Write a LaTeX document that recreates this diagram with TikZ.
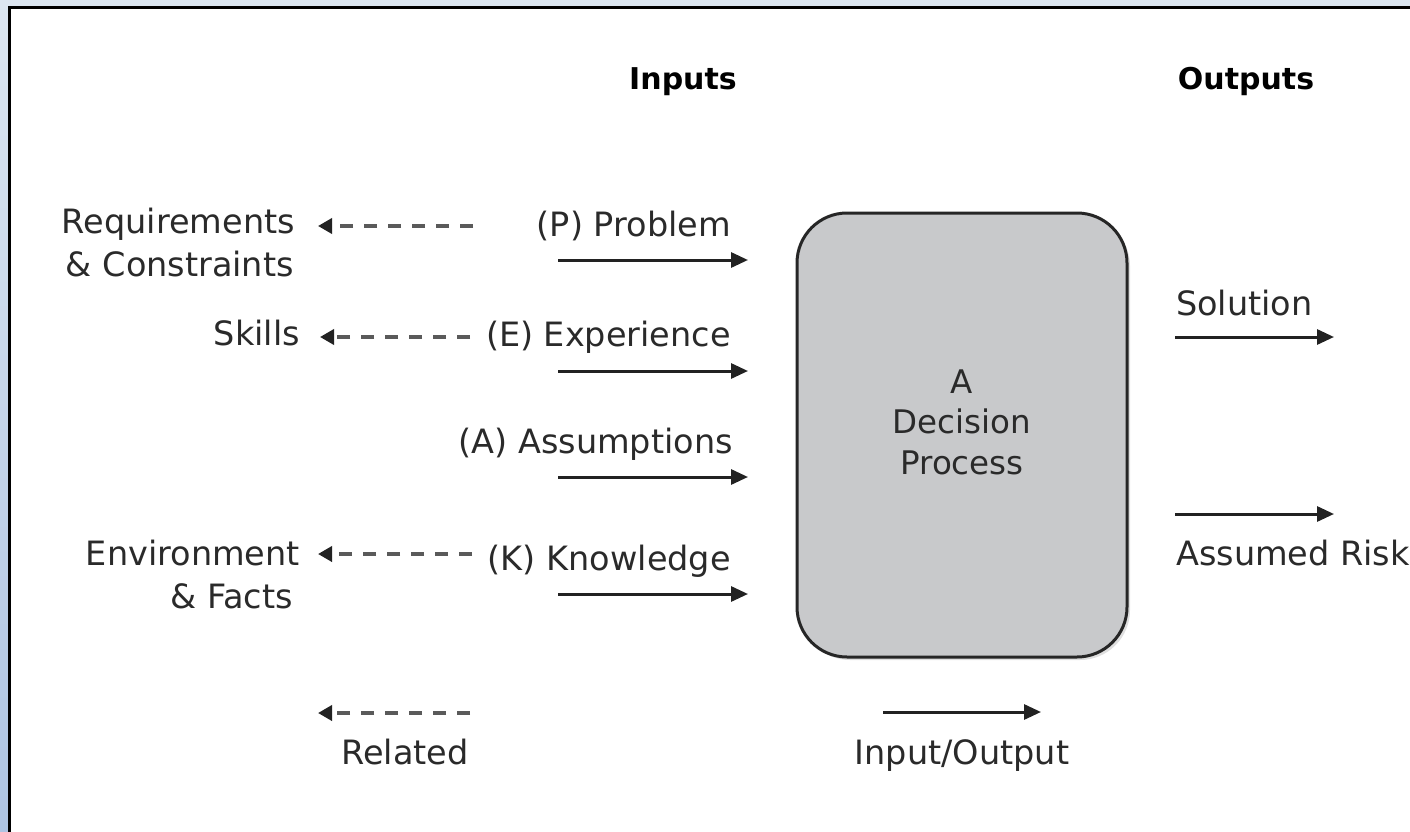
\documentclass[tikz,border=0pt]{standalone}
\usepackage{fontspec}
\setmainfont{DejaVu Sans}
\usetikzlibrary{arrows.meta,shadows}
\definecolor{boxgray}{HTML}{C8C9CB}
\definecolor{txtcol}{HTML}{2A2A2A}
\definecolor{arrcol}{HTML}{222222}
\definecolor{dashcol}{HTML}{5A5A5A}
\definecolor{bandtop}{HTML}{DCE6F1}
\definecolor{bandbot}{HTML}{AEC4E2}
\begin{document}
\begin{tikzpicture}[x=1pt,y=-1pt,
  lbl/.style={font=\fontsize{33.5}{43}\selectfont, inner sep=0pt, text=txtcol},
  boxlbl/.style={font=\fontsize{32.5}{43}\selectfont, inner sep=0pt, text=txtcol},
  hdr/.style={font=\bfseries\fontsize{30}{43}\selectfont, inner sep=0pt, text=black},
  io/.style={line width=3pt, draw=arrcol, -{Triangle[length=17pt,width=15pt]}},
  rel/.style={line width=3.5pt, draw=dashcol, dash pattern=on 13pt off 11pt, -{Triangle[length=14pt,width=15pt,color=arrcol,fill=arrcol]}},
  procbox/.style={draw=black!85, line width=3pt, fill=boxgray, rounded corners=50pt, drop shadow={opacity=0.25, shadow xshift=3pt, shadow yshift=-3pt}}
]
\useasboundingbox (0,0) rectangle (1410,832);
% frame
\fill[white] (0,0) rectangle (1410,832);
\fill[bandtop] (0,0) rectangle (1410,6);
\shade[top color=bandtop, bottom color=bandbot] (0,0) rectangle (8,832);
\draw[line width=3pt, black] (9.5,832) -- (9.5,7.5) -- (1410,7.5);

% headers
\node[hdr, anchor=base] (inputs) at (683,90) {Inputs};
\node[hdr, anchor=base] (outputs) at (1246,90) {Outputs};

% process box
\node[procbox, minimum width=330pt, minimum height=444pt] (proc) at (962,435) {};
\node[boxlbl, anchor=base] (pa) at (962,393) {A};
\node[boxlbl, anchor=base] (pb) at (962,433) {Decision};
\node[boxlbl, anchor=base] (pc) at (962,474) {Process};

% inputs
\node[lbl, anchor=base east] (P) at (731,236) {(P) Problem};
\node[lbl, anchor=base east] (E) at (731,346) {(E) Experience};
\node[lbl, anchor=base east] (A) at (733,453) {(A) Assumptions};
\node[lbl, anchor=base east] (K) at (731,570) {(K) Knowledge};

\coordinate (p0) at (558,260); \coordinate (p1) at (748,260);
\coordinate (e0) at (558,371); \coordinate (e1) at (748,371);
\coordinate (a0) at (558,477); \coordinate (a1) at (748,477);
\coordinate (k0) at (558,594); \coordinate (k1) at (748,594);
\draw[io] (p0) -- (p1);
\draw[io] (e0) -- (e1);
\draw[io] (a0) -- (a1);
\draw[io] (k0) -- (k1);

% related
\node[lbl, anchor=base east] (req1) at (295,233) {Requirements};
\node[lbl, anchor=base east] (req2) at (294,276) {\& Constraints};
\node[lbl, anchor=base east] (skills) at (300,345) {Skills};
\node[lbl, anchor=base east] (env1) at (300,565) {Environment};
\node[lbl, anchor=base east] (env2) at (293,608) {\& Facts};

\coordinate (rq0) at (473,226); \coordinate (rq1) at (318,226);
\coordinate (sk0) at (470,337); \coordinate (sk1) at (320,337);
\coordinate (en0) at (472,554); \coordinate (en1) at (318,554);
\draw[rel] (rq0) -- (rq1);
\draw[rel] (sk0) -- (sk1);
\draw[rel] (en0) -- (en1);

% outputs
\node[lbl, anchor=base west] (sol) at (1176,315) {Solution};
\node[lbl, anchor=base west] (risk) at (1176,565) {Assumed Risk};
\coordinate (s0) at (1175,337); \coordinate (s1) at (1334,337);
\coordinate (r0) at (1175,514); \coordinate (r1) at (1334,514);
\draw[io] (s0) -- (s1);
\draw[io] (r0) -- (r1);

% legend
\coordinate (lr0) at (470,713); \coordinate (lr1) at (318,713);
\draw[rel] (lr0) -- (lr1);
\node[lbl, anchor=base] (related) at (405,764) {Related};
\coordinate (li0) at (883,712); \coordinate (li1) at (1041,712);
\draw[io] (li0) -- (li1);
\node[lbl, anchor=base] (inout) at (962,764) {Input/Output};
\end{tikzpicture}
\end{document}
